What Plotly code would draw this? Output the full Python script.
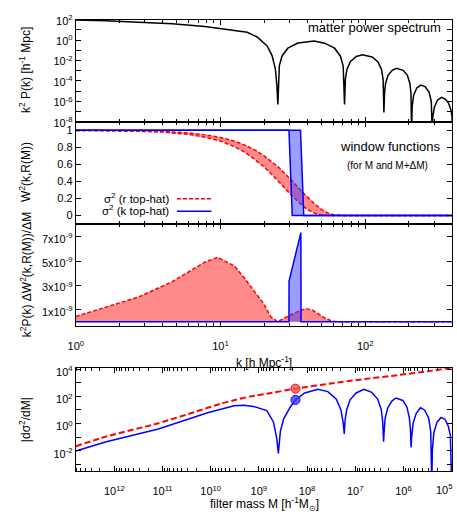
import plotly.graph_objects as go

# ---------------- data ----------------
# panel 1: matter power spectrum k^2 P(k)
k_ps = [1, 1.62, 2.72, 4.64, 7.78, 12.45, 15.3, 17.9, 21.0, 22.7, 23.9, 24.5, 24.9,
        25.5, 26.6, 29.2, 34.3, 44.3, 52.4, 61.4, 67.5, 70.4, 71.9,
        72.9, 74.7, 79.0, 86.8, 95.4, 111.6, 122.5, 129.7, 132.9, 134.6,
        135.9, 138.2, 143.7, 153.6, 164, 183, 195.5, 203.4, 207, 209,
        211, 216, 227, 242, 259, 276, 286, 290,
        293, 300, 315, 337, 359, 377, 390, 398, 400]
ps = [93, 79, 55, 39, 21, 9.5, 5.8, 2.0, 0.27, 0.030, 1.6e-3, 4.2e-5, 5e-7,
      3.2e-3, 0.028, 0.16, 0.52, 0.79, 0.50, 0.16, 0.025, 2.8e-3, 5e-7,
      1.6e-4, 1.3e-3, 7.9e-3, 0.025, 0.037, 0.022, 7.1e-3, 1.3e-3, 1.3e-4, 8e-8,
      6.3e-6, 5.6e-5, 3.5e-4, 1.1e-3, 1.7e-3, 1.1e-3, 3.5e-4, 5.6e-5, 6.3e-6, 1e-9,
      3.2e-7, 4e-6, 2e-5, 4e-5, 2.8e-5, 7.9e-6, 1e-6, 1e-9,
      3.2e-8, 2.5e-7, 1.3e-6, 2.5e-6, 1.6e-6, 6.3e-7, 1.6e-7, 3.2e-8, 1e-9]

# panel 2: window functions
k_wr1 = [1, 2, 4, 6, 8, 10, 12.5, 15, 17.5, 20, 22.5, 25, 27.5, 30, 32.5, 35, 37.5,
         40, 45, 50, 55, 60, 65, 70, 400]
w_r1 = [0.999, 0.997, 0.987, 0.969, 0.945, 0.915, 0.873, 0.82, 0.764, 0.699, 0.636,
        0.571, 0.502, 0.438, 0.373, 0.316, 0.259, 0.211, 0.128, 0.069, 0.030, 0.009,
        0.001, 0.0, 0.0]
k_wr2 = [1, 2, 4, 6, 8, 10, 12, 14, 16, 18, 20, 22, 24, 26, 28, 30, 32, 36, 40, 44,
         48, 52, 56, 400]
w_r2 = [0.999, 0.995, 0.979, 0.952, 0.915, 0.873, 0.82, 0.764, 0.699, 0.636, 0.571,
        0.502, 0.438, 0.373, 0.316, 0.259, 0.211, 0.128, 0.069, 0.030, 0.009, 0.001,
        0.0, 0.0]
k_wk1 = [1, 29.7, 31.3, 400]
w_k1 = [1, 1, 0, 0]
k_wk2 = [1, 35.7, 37.6, 400]
w_k2 = [1, 1, 0, 0]

# panel 3: k^2 P(k) dW^2/dM
k_dr = [1, 1.62, 2.72, 4.64, 6.35, 7.78, 9.55, 12.45, 14.6, 17.0, 19.9, 22.2, 24.8,
        27.3, 31.8, 35.6, 39.1, 43.3, 48.3, 53.0, 59.1, 65, 400]
d_r = [0.44e-9, 1.24e-9, 2.04e-9, 3.3e-9, 4.3e-9, 4.9e-9, 5.3e-9, 4.6e-9, 3.6e-9,
       2.54e-9, 1.48e-9, 0.42e-9, 0.0, 0.28e-9, 0.68e-9, 0.95e-9, 1.08e-9, 0.95e-9,
       0.6e-9, 0.28e-9, 0.05e-9, 0.0, 0.0]
k_dk = [1, 29.7, 29.75, 35.9, 36.0, 400]
d_k = [0, 0, 3.34e-9, 7.34e-9, 0, 0]

# panel 4: |d sigma^2 / dM|
m_r = [6.3e12, 1.47e12, 1.22e11, 1.95e10, 6.0e9, 3.27e9, 1.5e9, 6.84e8, 1.74e8,
       2.97e7, 6.3e6, 1.28e6, 2.71e5, 1e5]
s_r = [0.021, 0.11, 1.05, 7.9, 30, 52, 100, 158, 372, 933, 1905, 3715, 7586, 12600]
m_k = [6.3e12, 1.47e12, 1.22e11, 1.16e10, 3.27e9, 2.04e9, 1.28e9, 6.84e8, 4.99e8,
       4.27e8, 3.94e8,
       3.59e8, 3.06e8, 2.24e8, 1.74e8, 1.12e8, 5.97e7, 3.71e7, 2.47e7, 1.98e7,
       1.77e7, 1.69e7,
       1.63e7, 1.51e7, 1.28e7, 9.6e6, 6.6e6, 4.54e6, 3.43e6, 2.89e6, 2.69e6, 2.58e6,
       2.51e6, 2.39e6, 2.12e6, 1.74e6, 1.43e6, 1.03e6, 8.43e5, 7.52e5, 7.13e5, 6.93e5,
       6.75e5, 6.28e5, 5.41e5, 4.44e5, 3.64e5, 2.99e5, 2.71e5, 2.58e5,
       2.51e5, 2.34e5, 2.01e5, 1.65e5, 1.36e5, 1.17e5, 1.06e5, 1e5]
s_k = [9.3e-3, 0.046, 0.39, 6.2, 20, 22, 18, 8.9, 1.3, 0.085, 6.3e-3,
       0.25, 2.2, 16, 55, 178, 331, 224, 63, 10, 1.0, 0.17,
       1.6, 10, 56, 178, 331, 200, 63, 11, 1.3, 0.046,
       0.32, 2.5, 14, 45, 76, 50, 16, 2.5, 0.32, 0.017,
       0.1, 1.1, 5.6, 14.5, 10, 2.5, 0.25, 3.2e-5,
       0.01, 0.2, 1.26, 2.8, 2.0, 0.63, 0.13, 3.2e-5]
m_mark = [1.74e8]
s_mark_r = [372]
s_mark_k = [55]

ps_ticks = [1e-8, 1e-7, 1e-6, 1e-5, 1e-4, 1e-3, 1e-2, 1e-1, 1, 10, 100]
ps_text = ["10<sup>-8</sup>", "", "10<sup>-6</sup>", "", "10<sup>-4</sup>", "",
           "10<sup>-2</sup>", "", "10<sup>0</sup>", "", "10<sup>2</sup>"]
w_ticks = [0, 0.2, 0.4, 0.6, 0.8, 1]
w_text = ["0", "0.2", "0.4", "0.6", "0.8", "1"]
d_ticks = [1e-9, 3e-9, 5e-9, 7e-9]
d_text = ["1x10<sup>-9</sup>", "3x10<sup>-9</sup>", "5x10<sup>-9</sup>", "7x10<sup>-9</sup>"]
k_ticks = [1, 10, 100]
k_text = ["10<sup>0</sup>", "10<sup>1</sup>", "10<sup>2</sup>"]
m_ticks = [1e12, 1e11, 1e10, 1e9, 1e8, 1e7, 1e6, 1e5]
m_text = ["10<sup>12</sup>", "10<sup>11</sup>", "10<sup>10</sup>", "10<sup>9</sup>",
          "10<sup>8</sup>", "10<sup>7</sup>", "10<sup>6</sup>", ""]
m_edge_label = "10<sup>5</sup>"   # label of the 1e5 tick at the right frame edge
s_ticks = [1e-3, 1e-2, 1e-1, 1, 10, 100, 1e3, 1e4]
s_text = ["", "10<sup>-2</sup>", "", "10<sup>0</sup>", "", "10<sup>2</sup>", "", "10<sup>4</sup>"]

# ---------------- figure ----------------
W, H = 457, 514
FONT = "Liberation Sans, Arial, Helvetica, sans-serif"
RED = "#ff0000"
BLUE = "#0000ff"
RED_FILL = "rgba(255,60,60,0.6)"
BLUE_FILL = "rgba(60,60,255,0.5)"

def px(x):
    return x / W

def py(y):
    return 1 - y / H

fig = go.Figure()

# panel 1
fig.add_trace(go.Scatter(x=k_ps, y=ps, mode="lines", line=dict(color="black", width=1.5),
                         xaxis="x", yaxis="y", showlegend=False))

# panel 2
fig.add_trace(go.Scatter(x=k_wr1, y=w_r1, mode="lines",
                         line=dict(color=RED, width=1.5, dash="4px,2px"),
                         xaxis="x2", yaxis="y2", showlegend=False))
fig.add_trace(go.Scatter(x=k_wr2, y=w_r2, mode="lines", fill="tonexty", fillcolor=RED_FILL,
                         line=dict(color=RED, width=1.5, dash="4px,2px"),
                         xaxis="x2", yaxis="y2", showlegend=False))
fig.add_trace(go.Scatter(x=k_wk1, y=w_k1, mode="lines", line=dict(color=BLUE, width=1.5),
                         xaxis="x2", yaxis="y2", showlegend=False))
fig.add_trace(go.Scatter(x=k_wk2, y=w_k2, mode="lines", fill="tonexty", fillcolor=BLUE_FILL,
                         line=dict(color=BLUE, width=1.5),
                         xaxis="x2", yaxis="y2", showlegend=False))

# panel 3
fig.add_trace(go.Scatter(x=k_dr, y=d_r, mode="lines", fill="tozeroy", fillcolor=RED_FILL,
                         line=dict(color=RED, width=1.5, dash="4px,2px"),
                         xaxis="x3", yaxis="y3", showlegend=False))
fig.add_trace(go.Scatter(x=k_dk, y=d_k, mode="lines", fill="tozeroy", fillcolor=BLUE_FILL,
                         line=dict(color=BLUE, width=1.5),
                         xaxis="x3", yaxis="y3", showlegend=False))

# panel 4
fig.add_trace(go.Scatter(x=m_r, y=s_r, mode="lines", line_shape="spline",
                         line=dict(color=RED, width=2, dash="6px,3px", smoothing=0.6),
                         xaxis="x4", yaxis="y4", showlegend=False))
fig.add_trace(go.Scatter(x=m_k, y=s_k, mode="lines", line=dict(color=BLUE, width=1.5),
                         xaxis="x4", yaxis="y4", showlegend=False))
fig.add_trace(go.Scatter(x=m_mark, y=s_mark_r, mode="markers",
                         marker=dict(size=9, color="rgba(255,80,80,0.8)",
                                     line=dict(color=RED, width=1)),
                         xaxis="x4", yaxis="y4", showlegend=False))
fig.add_trace(go.Scatter(x=m_mark, y=s_mark_k, mode="markers",
                         marker=dict(size=9, color="rgba(60,60,255,0.8)",
                                     line=dict(color=BLUE, width=1)),
                         xaxis="x4", yaxis="y4", showlegend=False))

XDOM = [px(69), px(452)]
common = dict(showline=True, linecolor="black", linewidth=1, mirror="ticks",
              ticks="inside", ticklen=5, tickcolor="black", tickwidth=1,
              showgrid=False, zeroline=False,
              tickfont=dict(family=FONT, size=11, color="black"))
minor_log = dict(ticks="inside", ticklen=3, tickcolor="black", dtick="D1", showgrid=False)

kx = dict(common, type="log", range=[0, 2.6], domain=XDOM, tickvals=k_ticks,
          ticktext=k_text, minor=minor_log)

fig.update_layout(
    width=W, height=H, margin=dict(l=0, r=0, t=0, b=0),
    paper_bgcolor="white", plot_bgcolor="white",
    font=dict(family=FONT, size=11, color="black"),
    xaxis=dict(kx, anchor="y", showticklabels=False),
    yaxis=dict(common, type="log", range=[-8, 2], domain=[py(118), py(13)],
               tickvals=ps_ticks, ticktext=ps_text, anchor="x", ticklabelshift=1),
    xaxis2=dict(kx, anchor="y2", showticklabels=False),
    yaxis2=dict(common, range=[-0.1, 1.1], domain=[py(223), py(118)],
                tickvals=w_ticks, ticktext=w_text, anchor="x2"),
    xaxis3=dict(kx, anchor="y3", showticklabels=True, ticklabelstandoff=10),
    yaxis3=dict(common, range=[-0.35e-9, 8.05e-9], domain=[py(328), py(223)],
                tickvals=d_ticks, ticktext=d_text, anchor="x3", ticklabelshift=2),
    xaxis4=dict(common, type="log", range=[12.8, 4.99], domain=XDOM, anchor="y4",
                tickvals=m_ticks, ticktext=m_text, minor=minor_log, ticklabelstandoff=10),
    yaxis4=dict(common, type="log", range=[-3.5, 4.1], domain=[py(477), py(371)],
                tickvals=s_ticks, ticktext=s_text, anchor="x4", ticklabelshift=3),
)

ann = []
def text(x, y, t, size=12, xanchor="center", angle=0):
    ann.append(dict(x=px(x), y=py(y), xref="paper", yref="paper", text=t,
                    showarrow=False, xanchor=xanchor, yanchor="middle",
                    textangle=angle, font=dict(family=FONT, size=size, color="black")))

text(443, 21, "matter power spectrum", 13, "right")
text(442, 143, "window functions", 13, "right")
text(430, 163, "(for M and M+ΔM)", 10, "right")
text(166, 196, "σ<sup>2</sup> (r top-hat)", 11.5, "right")
text(166, 209, "σ<sup>2</sup> (k top-hat)", 11.5, "right")
text(18, 65, "k<sup>2</sup> P(k) [h<sup>-1</sup> Mpc]", 12, angle=-90)
text(18, 170, "W<sup>2</sup>(k,R(M))", 12, angle=-90)
text(18, 275, "k<sup>2</sup>P(k) ΔW<sup>2</sup>(k,R(M))/ΔM", 12, angle=-90)
text(18, 424, "|dσ<sup>2</sup>/dM|", 12, angle=-90)
text(261, 365, "k [h Mpc<sup>-1</sup>]", 12)
text(261, 511, "filter mass M [h<sup>-1</sup>M<sub>⊙</sub>]", 12)
text(455, 495, m_edge_label, 11, "right")
fig.update_layout(annotations=ann)

fig.add_shape(type="line", xref="paper", yref="paper", x0=px(172), x1=px(207),
              y0=py(197), y1=py(197), line=dict(color=RED, width=1.5, dash="4px,2px"))
fig.add_shape(type="line", xref="paper", yref="paper", x0=px(172), x1=px(207),
              y0=py(210), y1=py(210), line=dict(color=BLUE, width=1.5))

fig.write_html("out.html")
